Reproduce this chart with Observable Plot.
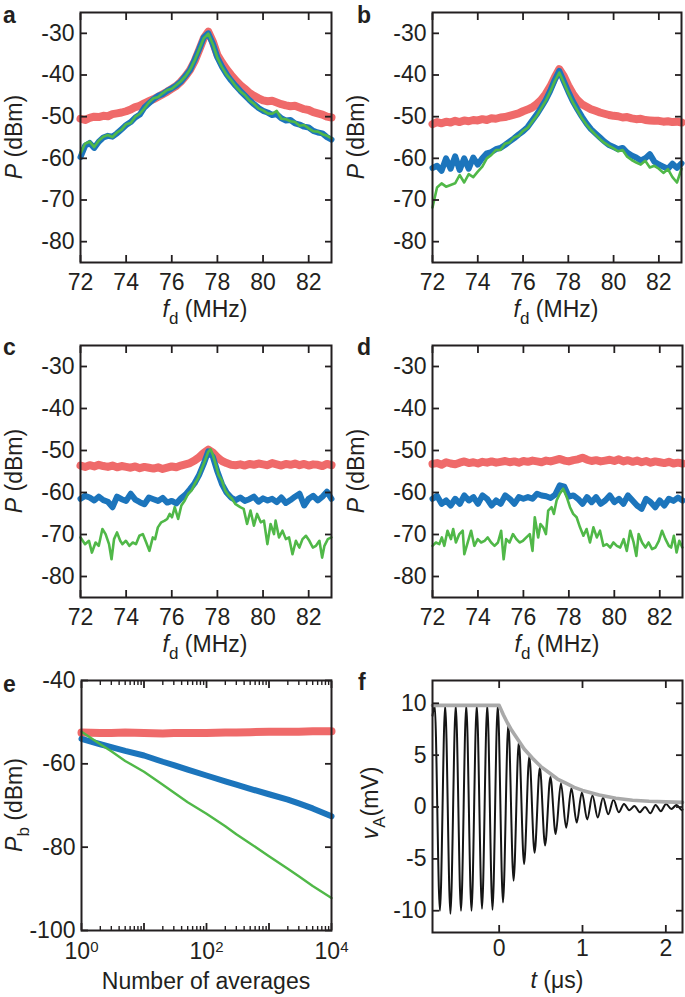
<!DOCTYPE html>
<html><head><meta charset="utf-8">
<script src="https://cdn.jsdelivr.net/npm/d3@7"></script>
<script src="https://cdn.jsdelivr.net/npm/@observablehq/plot@0.6"></script>
<style>
body{margin:0;background:#fff;}
#fig{position:relative;width:685px;height:997px;overflow:hidden;background:#fff;}
.panel{position:absolute;}
.panel svg{overflow:visible;background:transparent;}
</style></head><body><div id="fig"></div>
<script>
// ---------- data: spectra (panels a-d) ----------
const FREQ = [72.0,72.2,72.4,72.6,72.8,73.0,73.2,73.4,73.6,73.8,
  74.0,74.2,74.4,74.6,74.8,75.0,75.2,75.4,75.6,75.8,
  76.0,76.2,76.4,76.6,76.8,77.0,77.2,77.4,77.6,77.8,
  78.0,78.2,78.4,78.6,78.8,79.0,79.2,79.4,79.6,79.8,
  80.0,80.2,80.4,80.6,80.8,81.0,81.2,81.4,81.6,81.8,
  82.0,82.2,82.4,82.6,82.8,83.0];

const redA = [-50.5,-50.8,-50.3,-50.0,-50.1,-49.8,-49.9,-49.4,-49.2,-49.0,
  -48.7,-48.3,-47.7,-47.4,-46.8,-46.3,-45.8,-45.2,-44.6,-44.0,
  -43.3,-42.6,-41.6,-40.3,-38.8,-36.7,-34.0,-31.2,-29.6,-32.0,
  -35.2,-37.0,-38.6,-40.0,-41.3,-42.4,-43.3,-44.3,-45.0,-45.6,
  -46.1,-46.3,-46.2,-46.6,-47.0,-47.3,-47.5,-47.4,-47.8,-48.2,
  -48.4,-48.9,-49.2,-49.5,-50.0,-50.2];
const blueA = [-59.7,-57.0,-56.3,-57.5,-56.0,-55.0,-54.6,-54.8,-54.0,-53.0,
  -52.0,-51.3,-50.2,-49.5,-47.8,-46.8,-45.8,-45.0,-44.6,-43.8,
  -43.2,-42.5,-41.6,-40.2,-38.8,-36.4,-33.8,-31.0,-30.0,-32.5,
  -35.8,-38.0,-39.8,-41.3,-42.6,-43.8,-44.9,-46.0,-47.0,-47.9,
  -48.6,-49.0,-49.6,-49.4,-50.4,-50.9,-50.8,-51.6,-51.9,-52.4,
  -52.6,-53.4,-53.8,-54.0,-54.9,-55.5];
const greenA = [-58.8,-56.5,-56.0,-57.3,-55.8,-54.8,-54.4,-54.9,-53.8,-53.1,
  -51.8,-51.5,-50.0,-49.3,-48.0,-46.6,-45.6,-45.3,-44.4,-43.6,
  -43.3,-42.4,-41.5,-40.3,-38.7,-36.5,-33.9,-31.2,-30.1,-32.6,
  -35.9,-38.1,-39.9,-41.2,-42.7,-43.9,-44.8,-46.1,-46.9,-48.0,
  -48.5,-49.2,-49.3,-48.6,-50.5,-50.6,-51.1,-51.3,-52.2,-52.0,
  -52.8,-53.5,-53.6,-54.2,-54.6,-55.2];

const redB = [-51.8,-51.3,-51.6,-51.2,-51.4,-51.0,-51.3,-50.9,-51.1,-50.8,
  -50.9,-50.6,-50.8,-50.4,-50.5,-50.2,-50.1,-49.8,-49.5,-49.2,
  -48.7,-48.3,-47.8,-47.0,-46.0,-44.6,-42.8,-40.6,-38.6,-40.3,
  -42.6,-44.5,-46.0,-47.0,-47.6,-48.2,-48.6,-49.0,-49.3,-49.6,
  -49.8,-49.9,-50.2,-50.1,-50.4,-50.6,-50.5,-50.8,-50.9,-51.0,
  -51.0,-51.2,-51.1,-51.3,-51.2,-51.4];
const blueB = [-62.3,-61.8,-63.0,-60.0,-62.5,-59.5,-62.8,-60.0,-62.5,-59.8,
  -61.5,-60.0,-58.8,-58.5,-57.8,-57.5,-56.8,-56.0,-55.2,-54.3,
  -53.5,-52.5,-51.0,-49.5,-47.8,-46.0,-43.8,-41.2,-39.0,-41.5,
  -44.0,-46.3,-48.2,-50.0,-51.6,-53.0,-54.0,-55.0,-56.0,-56.8,
  -57.3,-57.8,-57.5,-58.6,-59.3,-59.8,-60.5,-60.0,-59.0,-60.8,
  -61.5,-62.0,-62.5,-61.3,-62.3,-61.2];
const greenB = [-71.8,-67.0,-66.0,-66.8,-66.4,-66.0,-64.0,-65.8,-63.8,-64.5,
  -63.2,-62.0,-60.0,-59.2,-58.0,-58.0,-56.5,-56.2,-55.0,-54.6,
  -53.4,-52.7,-51.2,-49.8,-48.0,-46.2,-44.0,-41.5,-39.4,-41.8,
  -44.3,-46.6,-48.5,-50.4,-51.9,-53.2,-54.3,-55.4,-56.3,-57.0,
  -57.6,-58.3,-58.0,-59.6,-60.4,-61.0,-61.5,-60.6,-62.2,-61.8,
  -62.5,-63.5,-62.6,-64.5,-65.8,-62.5];

const redC = [-53.6,-53.9,-53.5,-53.8,-53.4,-53.7,-53.9,-53.6,-54.0,-53.7,
  -53.9,-54.1,-53.8,-54.2,-53.9,-54.1,-54.3,-54.0,-54.4,-54.1,
  -53.8,-54.0,-53.6,-53.3,-53.0,-52.4,-51.6,-50.6,-49.8,-50.5,
  -51.6,-52.5,-53.0,-53.4,-53.5,-53.3,-53.6,-53.2,-53.4,-53.1,
  -53.3,-53.5,-53.0,-53.3,-53.6,-53.2,-53.4,-53.1,-53.5,-53.2,
  -53.6,-53.3,-53.4,-53.7,-53.2,-53.5];
const blueC = [-61.5,-60.8,-61.2,-61.9,-61.0,-61.8,-62.2,-63.5,-61.0,-61.6,
  -62.0,-60.3,-61.7,-62.3,-62.8,-61.2,-61.6,-62.0,-61.3,-62.4,
  -62.0,-62.6,-61.4,-60.5,-59.2,-57.8,-55.8,-53.2,-50.2,-51.5,
  -55.0,-58.0,-60.0,-61.2,-61.8,-61.2,-62.0,-61.6,-61.0,-62.2,
  -61.4,-61.9,-61.5,-62.3,-61.2,-62.5,-61.8,-61.0,-60.3,-63.1,
  -61.5,-60.8,-61.9,-61.0,-59.8,-61.5];
const greenC_f = [72.0,72.2,72.37,72.5,72.66,72.8,72.96,73.1,73.25,73.36,
  73.47,73.6,73.74,73.84,73.99,74.14,74.29,74.43,74.58,74.73,
  74.88,75.02,75.17,75.27,75.39,75.54,75.69,75.8,75.91,76.01,
  76.13,76.28,76.42,76.57,76.72,76.87,77.01,77.16,77.3,77.45,
  77.6,77.7,77.8,77.95,78.05,78.19,78.34,78.49,78.64,78.78,
  79.0,79.15,79.3,79.45,79.6,79.74,79.9,80.04,80.19,80.33,
  80.48,80.55,80.7,80.85,81.0,81.14,81.29,81.44,81.59,81.73,
  81.88,82.03,82.18,82.32,82.47,82.59,82.69,82.84,82.99];
const greenC = [-70.7,-72.3,-71.5,-74.3,-71.9,-72.7,-68.7,-69.9,-72.3,-75.9,
  -71.1,-69.5,-71.5,-72.3,-71.5,-72.7,-71.9,-72.3,-70.3,-69.9,
  -71.9,-73.9,-70.7,-71.1,-68.3,-67.1,-66.7,-66.3,-65.1,-65.9,
  -63.5,-66.3,-63.1,-61.9,-60.3,-59.5,-57.9,-56.5,-54.5,-52.5,
  -50.3,-49.7,-51.0,-53.8,-55.8,-57.1,-59.5,-60.7,-61.5,-62.7,
  -63.5,-63.9,-67.5,-64.3,-67.9,-65.1,-67.1,-66.7,-72.3,-67.5,
  -69.9,-66.7,-70.7,-69.1,-71.1,-70.7,-74.7,-71.5,-73.1,-71.1,
  -70.3,-71.5,-73.1,-72.7,-71.5,-75.5,-72.7,-71.1,-70.7];

const redD = [-53.2,-53.0,-53.4,-52.8,-53.1,-53.3,-52.9,-52.6,-53.0,-52.8,
  -53.1,-52.7,-52.9,-52.6,-52.9,-52.7,-52.5,-52.8,-52.6,-52.9,
  -52.5,-52.7,-52.4,-52.6,-52.8,-52.4,-52.6,-52.3,-52.0,-52.4,
  -52.6,-52.3,-52.1,-51.7,-52.2,-52.5,-52.3,-52.6,-52.4,-52.2,
  -52.5,-52.1,-52.6,-52.3,-52.7,-52.4,-52.8,-52.5,-52.9,-52.6,
  -52.8,-53.0,-52.7,-53.1,-52.9,-53.1];
const blueD = [-61.5,-60.8,-62.7,-61.9,-63.1,-61.5,-62.7,-60.7,-61.9,-61.1,
  -62.7,-60.7,-61.5,-63.1,-61.9,-62.7,-60.7,-61.5,-62.7,-61.1,
  -61.5,-61.1,-61.5,-60.3,-60.7,-60.9,-61.3,-60.5,-58.3,-58.6,
  -61.0,-60.7,-61.5,-62.7,-61.1,-62.3,-61.1,-62.7,-61.9,-60.7,
  -62.3,-61.5,-62.7,-60.7,-61.9,-63.1,-63.9,-61.5,-62.3,-63.5,
  -61.9,-63.1,-61.5,-62.0,-61.2,-61.9];
const greenD_f = [72.0,72.15,72.3,72.41,72.52,72.66,72.81,72.91,73.03,73.18,
  73.33,73.4,73.55,73.7,73.84,73.99,74.14,74.29,74.43,74.58,
  74.73,74.88,75.02,75.13,75.24,75.39,75.54,75.69,75.83,75.98,
  76.13,76.28,76.4,76.5,76.65,76.75,76.87,76.99,77.09,77.24,
  77.34,77.46,77.6,77.75,77.9,78.05,78.19,78.34,78.49,78.64,
  78.78,78.93,79.08,79.23,79.37,79.52,79.67,79.82,79.96,80.11,
  80.26,80.41,80.55,80.7,80.85,80.97,81.07,81.22,81.37,81.51,
  81.66,81.81,81.96,82.1,82.25,82.4,82.5,82.62,82.74,82.86,82.99];
const greenD = [-72.7,-71.9,-72.3,-70.7,-72.7,-69.1,-71.1,-68.7,-71.9,-69.9,
  -69.1,-74.7,-71.9,-69.1,-72.7,-71.1,-71.9,-71.5,-70.7,-71.9,
  -72.7,-71.9,-69.1,-75.9,-71.1,-71.9,-69.9,-71.1,-71.9,-71.5,
  -70.7,-69.9,-73.9,-65.9,-70.7,-67.5,-68.3,-69.9,-64.3,-63.5,
  -65.1,-61.9,-60.3,-59.1,-61.0,-63.5,-65.1,-65.9,-68.3,-70.3,
  -68.7,-71.9,-68.3,-70.7,-69.1,-72.7,-72.3,-73.1,-71.9,-72.7,
  -73.1,-71.1,-73.9,-69.1,-71.9,-75.1,-69.9,-71.9,-73.1,-71.9,
  -73.5,-73.1,-71.5,-69.1,-71.1,-72.7,-73.1,-70.3,-74.3,-71.5,-73.1];

// ---------- data: panel e ----------
const NAVG = [1,2,3,5,10,20,30,50,100,200,300,500,1000,2000,3000,5000,10000];
const redE = [-52.5,-52.6,-52.6,-52.5,-52.6,-52.7,-52.6,-52.6,-52.6,-52.5,-52.5,-52.4,-52.3,-52.3,-52.3,-52.2,-52.2];
const blueE = [-54.0,-55.3,-56.0,-56.9,-58.0,-59.5,-60.3,-61.4,-62.8,-64.2,-65.0,-66.0,-67.3,-68.6,-69.5,-70.7,-72.6];
const greenE = [-52.3,-55.3,-57.0,-59.3,-61.9,-65.0,-66.9,-69.2,-72.0,-75.0,-76.9,-79.1,-82.2,-85.2,-87.0,-89.3,-92.2];

// ---------- data: panel f ----------
const vT = [-0.8,-0.774,-0.711,-0.648,-0.585,-0.521,-0.458,-0.395,-0.332,-0.269,
  -0.206,-0.143,-0.080,-0.017,0.046,0.110,0.173,0.236,0.299,0.362,
  0.425,0.488,0.551,0.615,0.678,0.741,0.804,0.867,0.930,0.993,
  1.056,1.120,1.183,1.246,1.309,1.372,1.435,1.498,1.561,1.624,
  1.687,1.751,1.814,1.877,1.940,2.003,2.066,2.129,2.192,2.2];
const vA = [8.8,9.8,-10.0,9.8,-10.3,9.8,-10.0,9.8,-10.0,9.8,
  -9.8,9.8,-9.9,9.8,-9.2,8.0,-7.1,6.3,-5.5,4.9,
  -4.4,3.8,-3.7,2.9,-2.6,2.3,-2.0,1.8,-1.5,1.4,
  -1.2,1.1,-1.0,0.9,-0.7,0.7,-0.5,0.3,-0.3,0.1,
  -0.5,0.0,-0.6,0.2,-0.4,0.3,-0.2,0.2,-0.3,-0.25];
const envT = [-0.8,0,0.05,0.1,0.15,0.2,0.3,0.4,0.5,0.6,0.7,0.8,0.9,1.0,1.2,1.4,1.6,1.8,2.0,2.2];
const envV = [9.8,9.8,8.9,8.1,7.4,6.8,5.6,4.7,3.9,3.3,2.7,2.3,1.9,1.6,1.15,0.85,0.65,0.55,0.5,0.45];

// ---------- ticks ----------
const fTicks = [72,74,76,78,80,82];
const pTicks = [-30,-40,-50,-60,-70,-80];
const eMajor = [1,10,100,1000,10000];
const eLabelVals = [1,100,10000];
const eLabels = ["10^0","10^2","10^4"];
const eYTicks = [-40,-60,-80,-100];
const tTicks = [0,1,2];
const vTicks = [10,5,0,-5,-10];

// ---------- styles ----------
const FONT = '"Liberation Sans", Arial, Helvetica, sans-serif';
const FS = 23;
const INK = "#231f20";
const RED = "#ef6a6a", BLUE = "#1c75bc", GREEN = "#50b848", GRAY = "#a9a9a9", BLACK = "#151515";

const fig = document.getElementById("fig");

function addText(svg, x, y, parts, opts = {}) {
  const t = d3.select(svg).append("text").attr("x", x).attr("y", y)
    .attr("fill", INK).attr("font-family", FONT).attr("font-size", opts.size || FS)
    .attr("text-anchor", opts.anchor || "middle");
  if (opts.rotate) t.attr("transform", `rotate(-90 ${x} ${y})`);
  if (opts.bold) t.attr("font-weight", "bold");
  for (const p of parts) {
    const s = t.append("tspan").text(p.t);
    if (p.i) s.attr("font-style", "italic");
    if (p.dy) s.attr("dy", p.dy);
    if (p.size) s.attr("font-size", p.size);
  }
  return t;
}

function tickAxes(xt, yt, xMinor, len) {
  const o = {tickFormat: () => "", label: null, strokeWidth: 1.8};
  const m = [
    Plot.axisX(xt, {...o, anchor: "bottom", tickSize: -len}),
    Plot.axisX(xt, {...o, anchor: "top", tickSize: -len}),
    Plot.axisY(yt, {...o, anchor: "left", tickSize: -len}),
    Plot.axisY(yt, {...o, anchor: "right", tickSize: -len})
  ];
  if (xMinor) {
    m.push(Plot.axisX(xMinor, {...o, anchor: "bottom", tickSize: -4, strokeWidth: 1.4}));
    m.push(Plot.axisX(xMinor, {...o, anchor: "top", tickSize: -4, strokeWidth: 1.4}));
  }
  return m;
}

function panel(cfg) {
  const div = document.createElement("div");
  div.className = "panel";
  Object.assign(div.style, {left: cfg.left + "px", top: cfg.top + "px", width: cfg.width + "px", height: cfg.height + "px"});
  const svg = Plot.plot({
    width: cfg.width, height: cfg.height,
    marginLeft: cfg.m[0], marginRight: cfg.m[1], marginTop: cfg.m[2], marginBottom: cfg.m[3],
    x: {...cfg.x, label: null},
    y: {...cfg.y, label: null},
    style: {fontFamily: FONT, fontSize: FS + "px", color: INK, background: "transparent", overflow: "visible"},
    marks: [
      ...cfg.marks,
      Plot.axisX(cfg.xLabelTicks || cfg.xTicks, {anchor: "bottom", tickSize: 0, tickPadding: cfg.xPad, tickFormat: cfg.xFormat || (d => String(d)), label: null}),
      Plot.axisY(cfg.yTicks, {anchor: "left", tickSize: 0, tickPadding: 6, tickFormat: d => String(d), label: null}),
      ...tickAxes(cfg.xTicks, cfg.yTicks, cfg.xMinor, 7),
      Plot.frame({stroke: INK, strokeWidth: 2})
    ]
  });
  div.appendChild(svg);
  fig.appendChild(div);
  addText(svg, cfg.letterPos[0], cfg.letterPos[1], [{t: cfg.letter}], {bold: true, anchor: "start", size: 23});
  addText(svg, cfg.xlPos[0], cfg.xlPos[1], cfg.xl);
  addText(svg, cfg.ylPos[0], cfg.ylPos[1], cfg.yl, {rotate: true});
  return svg;
}

const fdLabel = [{t: "f", i: 1}, {t: "d", dy: 7, size: 17}, {t: " (MHz)", dy: -7}];
const pLabel = [{t: "P", i: 1}, {t: " (dBm)"}];

function spectrumMarks(red, blue, green, greenF) {
  return [
    Plot.line(red, {x: FREQ, y: red, stroke: RED, strokeWidth: 8, strokeLinejoin: "round", strokeLinecap: "round"}),
    Plot.line(blue, {x: FREQ, y: blue, stroke: BLUE, strokeWidth: 6, strokeLinejoin: "round", strokeLinecap: "round"}),
    Plot.line(green, {x: greenF || FREQ, y: green, stroke: GREEN, strokeWidth: 2.6, strokeLinejoin: "round"})
  ];
}

const specX = {domain: [72, 83]};
const specY = {domain: [-85, -25]};

panel({left: 0, top: 0, width: 342, height: 330, m: [80, 11, 12, 68], x: specX, y: specY,
  xTicks: fTicks, yTicks: pTicks, xPad: 11, marks: spectrumMarks(redA, blueA, greenA),
  letter: "a", letterPos: [3, 23], xl: fdLabel, xlPos: [205, 317], yl: pLabel, ylPos: [22, 137]});
panel({left: 342, top: 0, width: 343, height: 330, m: [90, 4, 12, 68], x: specX, y: specY,
  xTicks: fTicks, yTicks: pTicks, xPad: 11, marks: spectrumMarks(redB, blueB, greenB),
  letter: "b", letterPos: [15, 23], xl: fdLabel, xlPos: [214, 317], yl: pLabel, ylPos: [22, 137]});
panel({left: 0, top: 330, width: 342, height: 333, m: [80, 11, 15, 66], x: specX, y: specY,
  xTicks: fTicks, yTicks: pTicks, xPad: 11, marks: spectrumMarks(redC, blueC, greenC, greenC_f),
  letter: "c", letterPos: [3, 25], xl: fdLabel, xlPos: [205, 322], yl: pLabel, ylPos: [22, 141]});
panel({left: 342, top: 330, width: 343, height: 333, m: [90, 3, 15, 66], x: specX, y: specY,
  xTicks: fTicks, yTicks: pTicks, xPad: 11, marks: spectrumMarks(redD, blueD, greenD, greenD_f),
  letter: "d", letterPos: [15, 25], xl: fdLabel, xlPos: [215, 322], yl: pLabel, ylPos: [22, 141]});

// panel e
const eMinor = [];
for (const dec of [1, 10, 100, 1000]) for (let k = 2; k <= 9; k++) eMinor.push(k * dec);
const svgE = panel({left: 0, top: 663, width: 342, height: 334, m: [81, 11, 17, 67],
  x: {type: "log", domain: [1, 10000]}, y: {domain: [-100, -40]},
  xTicks: eMajor, xLabelTicks: eLabelVals, xMinor: eMinor, yTicks: eYTicks, xPad: 12,
  xFormat: d => eLabels[eLabelVals.indexOf(d)],
  marks: [
    Plot.line(redE, {x: NAVG, y: redE, stroke: RED, strokeWidth: 8, strokeLinecap: "round"}),
    Plot.line(blueE, {x: NAVG, y: blueE, stroke: BLUE, strokeWidth: 6, strokeLinecap: "round"}),
    Plot.line(greenE, {x: NAVG, y: greenE, stroke: GREEN, strokeWidth: 2.4})
  ],
  letter: "e", letterPos: [3, 29], xl: [{t: "Number of averages"}], xlPos: [206, 326],
  yl: [{t: "P", i: 1}, {t: "b", dy: 7, size: 17}, {t: " (dBm)", dy: -7}], ylPos: [22, 142]});
// superscript exponents
d3.select(svgE).selectAll("text").each(function () {
  const s = this.textContent;
  const m = /^10\^(\d)$/.exec(s);
  if (m && this.childNodes.length === 1) {
    this.textContent = "10";
    d3.select(this).append("tspan").attr("dy", "-7").attr("font-size", "15px").text(m[1]);
  }
});

// panel f
panel({left: 342, top: 663, width: 343, height: 334, m: [90, 3, 17, 65],
  x: {domain: [-0.8, 2.2]}, y: {domain: [-12.1, 12.2]},
  xTicks: tTicks, yTicks: vTicks, xPad: 7,
  marks: [
    Plot.line(vA, {x: vT, y: vA, stroke: BLACK, strokeWidth: 2, curve: "monotone-x"}),
    Plot.line(envV, {x: envT, y: envV, stroke: GRAY, strokeWidth: 3.6, strokeLinejoin: "round"})
  ],
  letter: "f", letterPos: [16, 27], xl: [{t: "t", i: 1}, {t: " (μs)"}], xlPos: [215, 325],
  yl: [{t: "v", i: 1}, {t: "A", dy: 7, size: 17}, {t: "(mV)", dy: -7}], ylPos: [36, 140]});
</script></body></html>
